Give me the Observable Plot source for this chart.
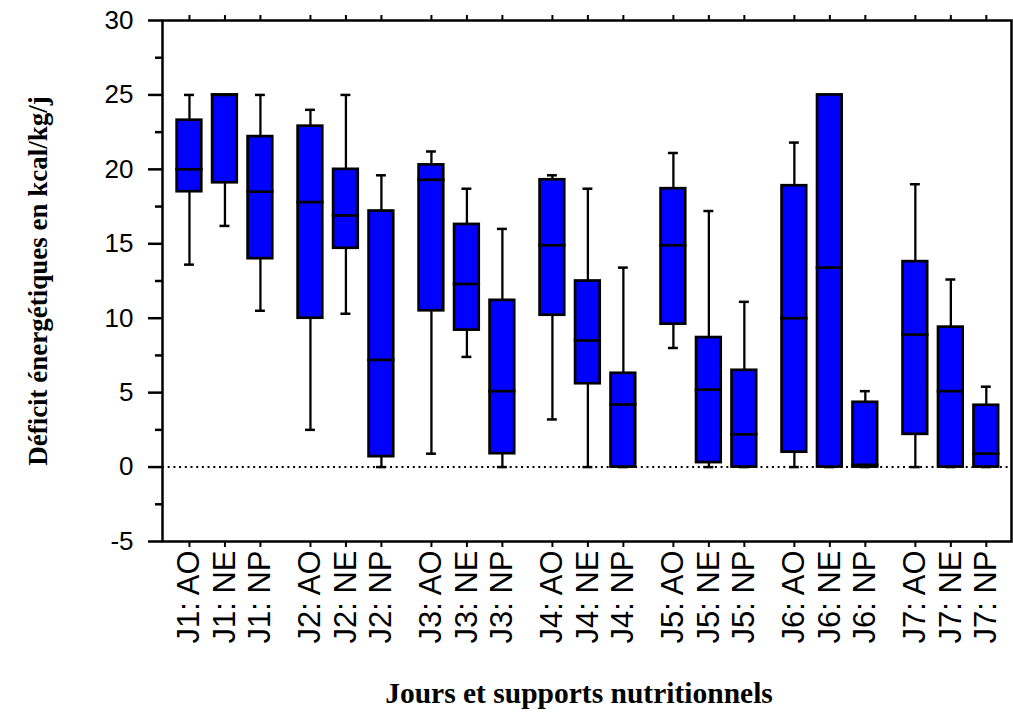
<!DOCTYPE html>
<html>
<head>
<meta charset="utf-8">
<script src="https://cdn.jsdelivr.net/npm/d3@7"></script>
<script src="https://cdn.jsdelivr.net/npm/@observablehq/plot@0.6"></script>
<style>
  body { margin: 0; background: #fff; }
</style>
</head>
<body>
<div id="chart"></div>
<script>
// ---- Data ----
const days = ["J1", "J2", "J3", "J4", "J5", "J6", "J7"];
const supports = ["AO", "NE", "NP"];
const whiskerLow  = [13.6, 16.2, 10.5,  2.5, 10.3,  0.0,  0.9,  7.4,  0.0,  3.2,  0.0,  0.0,  8.0,  0.0,  0.0,  0.0,  0.0,  0.0,  0.0,  0.0,  0.0];
const q1          = [18.5, 19.1, 14.0, 10.0, 14.7,  0.7, 10.5,  9.2,  0.9, 10.2,  5.6,  0.0,  9.6,  0.3,  0.0,  1.0,  0.0,  0.0,  2.2,  0.0,  0.0];
const median      = [20.0, 25.0, 18.5, 17.8, 16.9,  7.2, 19.3, 12.3,  5.1, 14.9,  8.5,  4.2, 14.9,  5.2,  2.2, 10.0, 13.4, 0.15,  8.9,  5.1,  0.9];
const q3          = [23.3, 25.0, 22.2, 22.9, 20.0, 17.2, 20.3, 16.3, 11.2, 19.3, 12.5,  6.3, 18.7,  8.7,  6.5, 18.9, 25.0, 4.35, 13.8,  9.4, 4.15];
const whiskerHigh = [25.0, 25.0, 25.0, 24.0, 25.0, 19.6, 21.2, 18.7, 16.0, 19.6, 18.7, 13.4, 21.1, 17.2, 11.1, 21.8, 25.0,  5.1, 19.0, 12.6,  5.4];
const yTicks = [-5, 0, 5, 10, 15, 20, 25, 30];
const yMinorTicks = [-2.5, 2.5, 7.5, 12.5, 17.5, 22.5, 27.5];
const yTitle = "Déficit énergétiques en kcal/kg/j";
const xTitle = "Jours et supports nutritionnels";

// ---- Layout helpers ----
const groupGap = 0.41; // extra space between day groups, in slot units
const rows = [];
days.forEach((d, di) => supports.forEach((s, si) => {
  const i = di * supports.length + si;
  rows.push({
    label: `${d}: ${s}`,
    pos: di * (supports.length + groupGap) + si,
    lo: whiskerLow[i], q1: q1[i], med: median[i], q3: q3[i], hi: whiskerHigh[i]
  });
}));
const positions = rows.map(r => r.pos);
const labelOf = new Map(rows.map(r => [r.pos, r.label]));

const boxHalf = 0.347, medHalf = 0.385, capHalf = 0.14;
const sans = "'Liberation Sans', Arial, Helvetica, sans-serif";
const serif = "'Liberation Serif', 'Times New Roman', serif";

const chart = Plot.plot({
  width: 1013,
  height: 712,
  marginLeft: 162,
  marginRight: 2,
  marginTop: 20,
  marginBottom: 171,
  x: {type: "linear", domain: [-0.76, 23.17]},
  y: {domain: [-5, 30]},
  style: {fontFamily: sans, color: "black", background: "white"},
  marks: [
    Plot.ruleY([0], {stroke: "black", strokeWidth: 2, strokeDasharray: "2,3.7"}),
    // whiskers
    Plot.ruleX(rows, {x: "pos", y1: "lo", y2: "hi", stroke: "black", strokeWidth: 2.3}),
    Plot.ruleY(rows, {y: "hi", x1: d => d.pos - capHalf, x2: d => d.pos + capHalf, stroke: "black", strokeWidth: 2.5}),
    Plot.ruleY(rows, {y: "lo", x1: d => d.pos - capHalf, x2: d => d.pos + capHalf, stroke: "black", strokeWidth: 2.5}),
    // boxes
    Plot.rect(rows, {x1: d => d.pos - boxHalf, x2: d => d.pos + boxHalf, y1: "q1", y2: "q3", fill: "#0000ff", stroke: "black", strokeWidth: 2.7}),
    // medians
    Plot.ruleY(rows, {y: "med", x1: d => d.pos - medHalf, x2: d => d.pos + medHalf, stroke: "black", strokeWidth: 2.7}),
    Plot.frame({stroke: "black", strokeWidth: 2.5}),
    // y axis
    Plot.axisY(yTicks, {tickSize: 14, tickPadding: 15, tickFormat: d => String(d), fontSize: 26, strokeWidth: 2.5, label: null}),
    Plot.axisY(yMinorTicks, {tickSize: 7, tickFormat: () => "", strokeWidth: 2.5, label: null}),
    // x axes
    Plot.axisX(positions, {anchor: "top", tickSize: 6, tickFormat: () => "", strokeWidth: 2, label: null}),
    Plot.axisX(positions, {anchor: "bottom", tickSize: 6, tickPadding: 3, tickRotate: -90, tickFormat: p => labelOf.get(p), fontSize: 31, strokeWidth: 2, label: null}),
    // titles
    Plot.text([yTitle], {text: d => d, frameAnchor: "left", textAnchor: "middle", dx: -124, rotate: -90, fontSize: 27, fontWeight: "bold", fontFamily: serif, fill: "black"}),
    Plot.text([xTitle], {text: d => d, frameAnchor: "bottom", textAnchor: "middle", dx: -8, dy: 161, fontSize: 29.5, fontWeight: "bold", fontFamily: serif, fill: "black"})
  ]
});
// make sure the axis tick labels have the reference's size
d3.select(chart).selectAll('g[aria-label="y-axis tick label"]').attr("font-size", 26).selectAll("text").attr("font-size", 26);
d3.select(chart).selectAll('g[aria-label="x-axis tick label"]').attr("font-size", 31).selectAll("text").attr("font-size", 31);
document.getElementById("chart").appendChild(chart);
</script>
</body>
</html>
